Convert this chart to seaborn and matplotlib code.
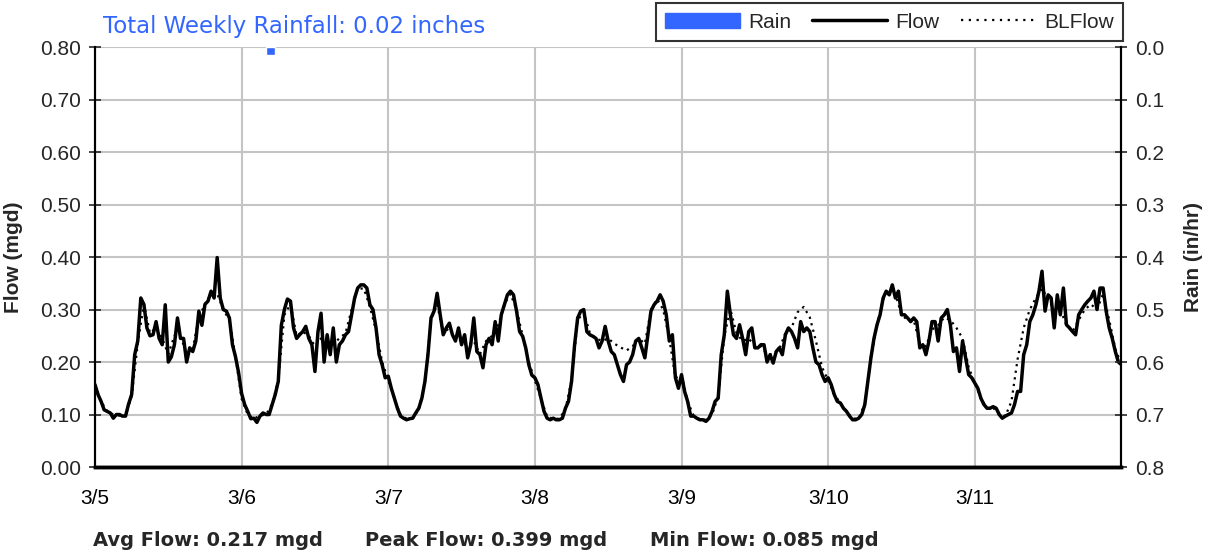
import pandas as pd
import numpy as np
import matplotlib
matplotlib.use("Agg")
import matplotlib.pyplot as plt
from matplotlib.patches import Patch
from matplotlib.lines import Line2D
import seaborn as sns

# Flow (mgd), half-hourly readings, one list per day
flow_0305 = [0.157, 0.138, 0.125, 0.109, 0.106, 0.103, 0.093, 0.100, 0.100, 0.097, 0.097, 0.120,
             0.138, 0.214, 0.240, 0.322, 0.310, 0.265, 0.250, 0.252, 0.277, 0.245, 0.233, 0.309,
             0.200, 0.210, 0.233, 0.284, 0.245, 0.245, 0.200, 0.227, 0.220, 0.240, 0.297, 0.270,
             0.310, 0.316, 0.335, 0.322, 0.399, 0.322, 0.300, 0.297, 0.284, 0.233, 0.210, 0.180]
flow_0306 = [0.140, 0.119, 0.106, 0.092, 0.093, 0.085, 0.097, 0.103, 0.100, 0.100, 0.119, 0.138,
             0.163, 0.270, 0.300, 0.320, 0.316, 0.265, 0.245, 0.252, 0.258, 0.268, 0.245, 0.233,
             0.182, 0.258, 0.293, 0.200, 0.252, 0.214, 0.265, 0.200, 0.233, 0.240, 0.252, 0.258,
             0.290, 0.322, 0.341, 0.347, 0.347, 0.341, 0.309, 0.300, 0.265, 0.214, 0.195, 0.170]
flow_0307 = [0.173, 0.150, 0.131, 0.112, 0.097, 0.093, 0.090, 0.092, 0.093, 0.103, 0.112, 0.131,
             0.163, 0.214, 0.284, 0.297, 0.331, 0.290, 0.252, 0.265, 0.274, 0.252, 0.240, 0.265,
             0.233, 0.252, 0.208, 0.233, 0.284, 0.220, 0.214, 0.189, 0.233, 0.245, 0.233, 0.277,
             0.240, 0.290, 0.309, 0.328, 0.335, 0.328, 0.297, 0.258, 0.249, 0.227, 0.195, 0.175]
flow_0308 = [0.170, 0.157, 0.131, 0.106, 0.093, 0.090, 0.093, 0.090, 0.090, 0.093, 0.112, 0.125,
             0.163, 0.233, 0.284, 0.297, 0.300, 0.258, 0.252, 0.249, 0.245, 0.227, 0.240, 0.268,
             0.240, 0.220, 0.214, 0.195, 0.176, 0.163, 0.195, 0.200, 0.214, 0.240, 0.245, 0.227,
             0.208, 0.252, 0.297, 0.309, 0.316, 0.328, 0.316, 0.290, 0.240, 0.252, 0.170, 0.150]
flow_0309 = [0.176, 0.144, 0.125, 0.097, 0.097, 0.093, 0.090, 0.090, 0.087, 0.093, 0.106, 0.125,
             0.131, 0.214, 0.252, 0.335, 0.290, 0.252, 0.245, 0.271, 0.245, 0.214, 0.258, 0.265,
             0.227, 0.227, 0.233, 0.233, 0.200, 0.214, 0.198, 0.220, 0.227, 0.214, 0.252, 0.265,
             0.258, 0.245, 0.227, 0.277, 0.258, 0.265, 0.258, 0.227, 0.200, 0.195, 0.176, 0.163]
flow_0310 = [0.170, 0.157, 0.138, 0.125, 0.122, 0.112, 0.106, 0.097, 0.090, 0.090, 0.093, 0.100,
             0.119, 0.163, 0.208, 0.245, 0.271, 0.290, 0.322, 0.335, 0.328, 0.347, 0.322, 0.335,
             0.290, 0.290, 0.284, 0.277, 0.284, 0.277, 0.227, 0.233, 0.214, 0.240, 0.277, 0.277,
             0.240, 0.284, 0.290, 0.300, 0.271, 0.220, 0.227, 0.182, 0.240, 0.208, 0.176, 0.170]
flow_0311 = [0.160, 0.150, 0.131, 0.119, 0.112, 0.112, 0.115, 0.112, 0.100, 0.093, 0.097, 0.100,
             0.103, 0.119, 0.144, 0.144, 0.214, 0.233, 0.277, 0.290, 0.309, 0.335, 0.373, 0.297,
             0.328, 0.322, 0.265, 0.328, 0.290, 0.341, 0.271, 0.265, 0.258, 0.252, 0.290, 0.300,
             0.309, 0.316, 0.322, 0.335, 0.300, 0.341, 0.341, 0.297, 0.265, 0.245, 0.220, 0.200]
flow_end = 0.195

# Baseline flow (mgd), hourly readings, one list per day
bl_0305 = [0.155, 0.125, 0.106, 0.100, 0.098, 0.098, 0.135, 0.235, 0.310, 0.255, 0.265, 0.245,
           0.215, 0.250, 0.250, 0.215, 0.225, 0.285, 0.310, 0.330, 0.330, 0.300, 0.280, 0.210]
bl_0306 = [0.130, 0.100, 0.092, 0.098, 0.100, 0.120, 0.165, 0.290, 0.310, 0.250, 0.258, 0.250,
           0.230, 0.245, 0.240, 0.235, 0.245, 0.255, 0.300, 0.340, 0.340, 0.305, 0.260, 0.200]
bl_0307 = [0.165, 0.130, 0.100, 0.092, 0.093, 0.110, 0.160, 0.280, 0.310, 0.255, 0.265, 0.245,
           0.240, 0.230, 0.240, 0.215, 0.240, 0.250, 0.270, 0.310, 0.330, 0.300, 0.250, 0.200]
bl_0308 = [0.165, 0.130, 0.096, 0.092, 0.092, 0.110, 0.165, 0.280, 0.295, 0.255, 0.245, 0.240,
           0.245, 0.235, 0.228, 0.222, 0.230, 0.245, 0.235, 0.300, 0.320, 0.300, 0.245, 0.170]
bl_0309 = [0.175, 0.125, 0.097, 0.091, 0.090, 0.100, 0.135, 0.250, 0.300, 0.255, 0.240, 0.245,
           0.230, 0.230, 0.215, 0.215, 0.225, 0.255, 0.265, 0.295, 0.305, 0.285, 0.240, 0.190]
bl_0310 = [0.165, 0.138, 0.122, 0.106, 0.092, 0.093, 0.120, 0.210, 0.270, 0.320, 0.330, 0.330,
           0.290, 0.280, 0.280, 0.235, 0.230, 0.262, 0.270, 0.285, 0.280, 0.265, 0.245, 0.190]
bl_0311 = [0.160, 0.131, 0.112, 0.113, 0.100, 0.097, 0.125, 0.205, 0.265, 0.300, 0.322, 0.340,
           0.320, 0.300, 0.300, 0.270, 0.258, 0.280, 0.300, 0.310, 0.300, 0.330, 0.280, 0.225]
bl_end = 0.195

# Rain (in/hr)
rain_times = ["2024-03-06 04:00"]
rain_rate = [0.015]

day_labels = ['3/5', '3/6', '3/7', '3/8', '3/9', '3/10', '3/11', '']
flow_ticks = [0.0, 0.1, 0.2, 0.3, 0.4, 0.5, 0.6, 0.7, 0.8]
rain_ticks = [0.0, 0.1, 0.2, 0.3, 0.4, 0.5, 0.6, 0.7, 0.8]

flow = flow_0305 + flow_0306 + flow_0307 + flow_0308 + flow_0309 + flow_0310 + flow_0311 + [flow_end]
bl = bl_0305 + bl_0306 + bl_0307 + bl_0308 + bl_0309 + bl_0310 + bl_0311 + [bl_end]
flow_df = pd.DataFrame({'time': pd.date_range('2024-03-05', periods=len(flow), freq='30min'), 'Flow': flow})
bl_df = pd.DataFrame({'time': pd.date_range('2024-03-05', periods=len(bl), freq='h'), 'BLFlow': bl})

sns.set_style('white')
plt.rcParams['font.family'] = ['Liberation Sans', 'DejaVu Sans']

fig = plt.figure(figsize=(12.24, 5.54), dpi=100)
ax = fig.add_axes([0.0776, 0.157, 0.8386, 0.758])
ax2 = ax.twinx()

sns.lineplot(data=bl_df, x='time', y='BLFlow', ax=ax, color='black', lw=1.6, linestyle=(0, (1, 2)))
sns.lineplot(data=flow_df, x='time', y='Flow', ax=ax, color='black', lw=2.5)

ax2.bar(pd.to_datetime(rain_times), rain_rate, width=0.06, align='edge', color='#3366FF')

days = pd.date_range('2024-03-05', periods=8, freq='D')
ax.set_xlim(days[0], days[-1])
ax.set_xticks(days)
ax.set_xticklabels(day_labels)
ax.set_ylim(0, 0.8)
ax.set_yticks(flow_ticks)
ax.set_yticklabels([f'{v:.2f}' for v in flow_ticks])
ax2.set_ylim(0.8, 0)
ax2.set_yticks(rain_ticks)
ax2.set_yticklabels([f'{v:.1f}' for v in rain_ticks])

ax.grid(True, color='#C4C4C4', lw=1.5)
ax.set_axisbelow(True)
ax.set_xlabel('')
ax.set_ylabel('Flow (mgd)', fontsize=15, fontweight='bold', labelpad=12)
ax2.set_ylabel('Rain (in/hr)', fontsize=15, fontweight='bold', labelpad=14)

ax.tick_params(axis='x', direction='inout', length=8, width=1.2, labelsize=15, pad=12, colors='black')
ax.tick_params(axis='y', direction='inout', length=8, width=1.2, labelsize=15, pad=6)
ax2.tick_params(axis='y', direction='inout', length=8, width=1.2, labelsize=15, pad=6)

for a in (ax, ax2):
    a.spines['top'].set_visible(False)
    a.spines['left'].set_color('black')
    a.spines['right'].set_color('black')
    a.spines['bottom'].set_color('black')
    a.spines['left'].set_linewidth(1.5)
    a.spines['right'].set_linewidth(1.5)
    a.spines['bottom'].set_linewidth(2.5)

handles = [Patch(facecolor='#3366FF', edgecolor='#3366FF'),
           Line2D([], [], color='black', lw=2.5),
           Line2D([], [], color='black', lw=1.6, linestyle=(0, (1, 2.5)))]
leg = fig.legend(handles, ['Rain', 'Flow', 'BLFlow'], ncol=3, loc='upper right',
                 bbox_to_anchor=(0.9175, 0.994), fontsize=15, frameon=True, fancybox=False,
                 edgecolor='black', handlelength=3.6, columnspacing=1.0, handletextpad=0.4,
                 borderpad=0.45, borderaxespad=0.0)
leg.get_frame().set_linewidth(1.5)

fig.text(103 / 1224, 0.953, 'Total Weekly Rainfall: 0.02 inches', color='#3366FF',
         fontsize=16.5, family='DejaVu Sans', va='center', ha='left')

stats = [(93, 'Avg Flow: 0.217 mgd'), (365, 'Peak Flow: 0.399 mgd'), (650, 'Min Flow: 0.085 mgd')]
for xpix, txt in stats:
    fig.text(xpix / 1224, 0.025, txt, fontsize=14, family='DejaVu Sans', fontweight='semibold',
             va='center', ha='left')

fig.savefig('out.png', dpi=100)
